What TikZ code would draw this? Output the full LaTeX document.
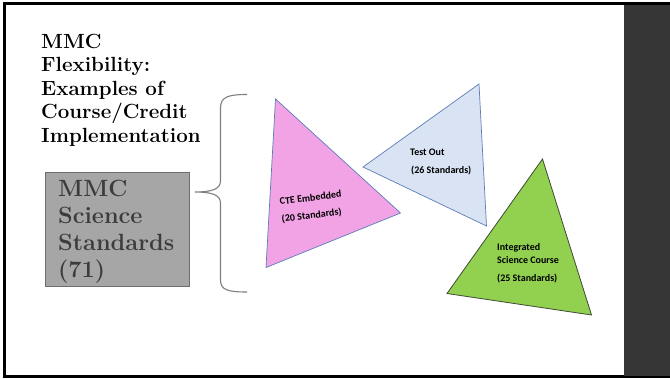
\documentclass[tikz,border=0pt]{standalone}
\usepackage{fontspec}
\newfontfamily\calfont{Carlito}
\definecolor{panel}{HTML}{363636}
\definecolor{boxfill}{HTML}{A6A6A6}
\definecolor{boxline}{HTML}{6E6E6E}
\definecolor{boxtext}{HTML}{3C3C3C}
\definecolor{bracecol}{HTML}{7F7F7F}
\definecolor{pinkfill}{HTML}{F2A3E6}
\definecolor{bluefill}{HTML}{DAE3F3}
\definecolor{greenfill}{HTML}{92D050}
\definecolor{triline}{HTML}{5B7DB8}
\definecolor{greenline}{HTML}{3F4A33}
\tikzset{
  titletext/.style={font=\fontsize{20.5}{23}\selectfont\bfseries, inner sep=0pt, anchor=base west},
  boxtextstyle/.style={font=\fontsize{23.5}{27}\selectfont\bfseries, text=boxtext, inner sep=0pt, anchor=base west},
  tritext/.style={font=\calfont\fontsize{10}{11}\selectfont\bfseries, inner sep=0pt},
  tri/.style={draw=triline, line width=0.7pt, line join=miter},
}
\begin{document}
\begin{tikzpicture}[x=1pt,y=-1pt]
\useasboundingbox (0,0) rectangle (670,378);
% frame and panel
\fill[white] (0,0) rectangle (670,378);
\fill[black] (3,2) rectangle (670,378);
\fill[white] (5.5,5) rectangle (624,374.5);
\fill[panel] (624,5) rectangle (670,376);

% title
\node[titletext] (t1) at (41,48) {MMC};
\node[titletext] (t2) at (41,71.5) {Flexibility:};
\node[titletext] (t3) at (41,95) {Examples of};
\node[titletext] (t4) at (41,118.5) {Course/Credit};
\node[titletext] (t5) at (41,142) {Implementation};

% gray box
\node[draw=boxline, line width=0.8pt, fill=boxfill, minimum width=143.5pt, minimum height=114pt, inner sep=0pt, anchor=north west] (box) at (45,171.5) {};
\node[boxtextstyle] (b1) at (58,196) {MMC};
\node[boxtextstyle] (b2) at (58,223) {Science};
\node[boxtextstyle] (b3) at (58,250) {Standards};
\node[boxtextstyle] (b4) at (58,277) {(71)};

% brace
\coordinate (tip) at (195,192);
\draw[bracecol, line width=1.1pt]
  (247,94.5) .. controls (228,94.5) and (220.5,97) .. (220.5,108)
  -- (220.5,181) .. controls (220.5,189) and (212,192) .. (tip)
  .. controls (212,192) and (220.5,195) .. (220.5,203)
  -- (220.5,280) .. controls (220.5,290) and (228,292) .. (247,292);

% triangles
\coordinate (p1) at (275.5,99);
\coordinate (p2) at (266,267.5);
\coordinate (p3) at (400.5,213);
\draw[tri, fill=pinkfill] (p1) -- (p2) -- (p3) -- cycle;

\coordinate (q1) at (479,84);
\coordinate (q2) at (363,167);
\coordinate (q3) at (486.5,226);
\draw[tri, fill=bluefill] (q1) -- (q2) -- (q3) -- cycle;

\coordinate (g1) at (542.5,159);
\coordinate (g2) at (447,293.5);
\coordinate (g3) at (591.5,315);
\draw[draw=greenline, line width=0.8pt, fill=greenfill] (g1) -- (g2) -- (g3) -- cycle;

% triangle texts
\node[tritext, anchor=base, rotate=7] (c1) at (311,201) {CTE Embedded};
\node[tritext, anchor=base, rotate=7] (c2) at (312,218.5) {(20 Standards)};

\node[tritext, anchor=base west] (o1) at (410,155) {Test Out};
\node[tritext, anchor=base west] (o2) at (411,173) {(26 Standards)};

\node[tritext, anchor=base west] (i1) at (497,250) {Integrated};
\node[tritext, anchor=base west] (i2) at (497,263) {Science Course};
\node[tritext, anchor=base west] (i3) at (497,281) {(25 Standards)};
\end{tikzpicture}
\end{document}
